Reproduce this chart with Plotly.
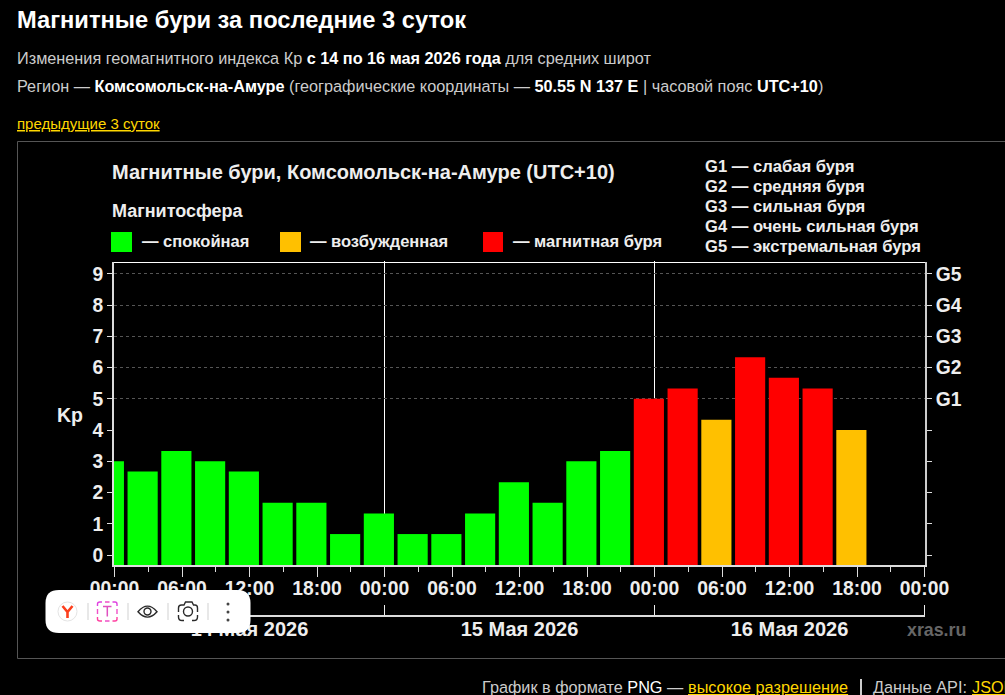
import re
import plotly.graph_objects as go

W, H = 1005, 695
FONT = "Liberation Sans"

# 3-hourly Kp index, bars centred on the hours listed (hours since 14 May 00:00)
hours = [-0.5, 2.5, 5.5, 8.5, 11.5, 14.5, 17.5, 20.5, 23.5, 26.5, 29.5, 32.5,
         35.5, 38.5, 41.5, 44.5, 47.5, 50.5, 53.5, 56.5, 59.5, 62.5, 65.5]
kp = [3, 2.67, 3.33, 3, 2.67, 1.67, 1.67, 0.67, 1.33, 0.67, 0.67, 1.33,
      2.33, 1.67, 3, 3.33, 5, 5.33, 4.33, 6.33, 5.67, 5.33, 4]
status = ["quiet"] * 16 + ["storm", "storm", "active", "storm", "storm", "storm", "active"]

status_colors = {"quiet": "#00ff00", "active": "#ffc000", "storm": "#ff0000"}
status_labels = {"quiet": "— спокойная", "active": "— возбужденная", "storm": "— магнитная буря"}

time_ticks = [0, 6, 12, 18, 24, 30, 36, 42, 48, 54, 60, 66, 72]
time_labels = ["00:00", "06:00", "12:00", "18:00"] * 3 + ["00:00"]
minor_time_ticks = [3, 9, 15, 21, 27, 33, 39, 45, 51, 57, 63, 69]
day_edges = [24, 48, 72]
day_centres = [12, 36, 60]
day_labels = ["14 Мая 2026", "15 Мая 2026", "16 Мая 2026"]

kp_ticks = list(range(10))
g_ticks = [5, 6, 7, 8, 9]
g_labels = ["G1", "G2", "G3", "G4", "G5"]
g_legend = ["G1 — слабая буря", "G2 — средняя буря", "G3 — сильная буря",
            "G4 — очень сильная буря", "G5 — экстремальная буря"]

X_RANGE = [-0.0444, 72.067]
Y_RANGE = [-0.32, 9.376]
X_DOMAIN_PX = (114, 925.25)
Y_DOMAIN_PX = (565, 262)


def fx(px):
    return px / W


def fy(py):
    return 1 - py / H


def pixel_path(d):
    """Turn an absolute path written in page pixels into paper fractions."""
    out, is_x = [], True
    for tok in re.findall(r"[A-Za-z]|-?\d+\.?\d*", d):
        if tok.isalpha():
            out.append(tok)
            is_x = True
        else:
            out.append(f"{fx(float(tok)):.5f}" if is_x else f"{fy(float(tok)):.5f}")
            is_x = not is_x
    return " ".join(out)


def label(px, py, text, size, color="#ffffff", bold=False, anchor="left", under=False):
    font = dict(family=FONT, size=size, color=color)
    if under:
        font["lineposition"] = "under"
    return dict(xref="paper", yref="paper", x=fx(px), y=fy(py), text=f"<b>{text}</b>" if bold else text,
                showarrow=False, xanchor=anchor, yanchor="middle", align="left", borderpad=0,
                font=font)


def page_rect(x0, y0, x1, y1, fill=None, line=None, width=1, layer="below"):
    return dict(type="rect", xref="paper", yref="paper", x0=fx(x0), x1=fx(x1), y0=fy(y0), y1=fy(y1),
                fillcolor=fill or "rgba(0,0,0,0)", line=dict(color=line or "rgba(0,0,0,0)", width=width if line else 0),
                layer=layer)


def icon(d, color=None, width=0, fill=None):
    return dict(type="path", xref="paper", yref="paper", path=pixel_path(d), layer="above",
                fillcolor=fill or "rgba(0,0,0,0)",
                line=dict(color=color or "rgba(0,0,0,0)", width=width))


fig = go.Figure()

FLOOR = Y_RANGE[0]
for key, colour in status_colors.items():
    xs = [h for h, s in zip(hours, status) if s == key]
    ys = [v - FLOOR for v, s in zip(kp, status) if s == key]
    fig.add_trace(go.Bar(x=xs, y=ys, base=FLOOR, width=2.68, marker=dict(color=colour, line_width=0),
                         showlegend=False, hoverinfo="skip"))

# empty traces keep the extra axes alive
fig.add_trace(go.Scatter(x=[None], y=[None], yaxis="y2", showlegend=False))
fig.add_trace(go.Scatter(x=[None], y=[None], xaxis="x2", showlegend=False))

AXIS_GREY = "#dddddd"
tick_font = dict(family=FONT, size=19.3, color="#eeeeee", weight="bold")
date_font = dict(family=FONT, size=20, color="#eeeeee", weight="bold")

annotations = [
    label(16, 20.5, "Магнитные бури за последние 3 суток", 23.7, bold=True),
    label(16, 58, "Изменения геомагнитного индекса Кр <span style='color:#fff'><b>с 14 по 16 мая 2026 года</b></span> для средних широт", 16.25, "#cccccc"),
    label(16, 86.5, "Регион — <span style='color:#fff'><b>Комсомольск-на-Амуре</b></span> (географические координаты — <span style='color:#fff'><b>50.55 N 137 E</b></span> | часовой пояс <span style='color:#fff'><b>UTC+10</b></span>)", 16.25, "#cccccc"),
    label(16, 124, "предыдущие 3 суток", 15, "#ffd700", under=True),
    label(111, 172, "Магнитные бури, Комсомольск-на-Амуре (UTC+10)", 20, "#eeeeee", bold=True),
    label(111, 211, "Магнитосфера", 18, "#eeeeee", bold=True),
    label(141, 241.5, status_labels["quiet"], 16.5, "#eeeeee", bold=True),
    label(309, 241.5, status_labels["active"], 16.5, "#eeeeee", bold=True),
    label(512, 241.5, status_labels["storm"], 16.5, "#eeeeee", bold=True),
    label(70, 415, "Kp", 19.5, "#eeeeee", bold=True, anchor="center"),
    label(906, 630, "xras.ru", 17.8, "#666666", bold=True),
    label(481, 687, "График в формате <span style='color:#fff'>PNG</span> —", 16.25, "#cccccc"),
    label(687, 687, "высокое разрешение", 16.25, "#ffd700", under=True),
    label(872, 687, "Данные API:", 16.25, "#cccccc"),
    label(971, 687, "JSON", 16.25, "#ffd700", under=True),
]
for i, text in enumerate(g_legend):
    annotations.append(label(704, 166 + 20 * i + 0.1 * i, text, 16.6, "#eeeeee", bold=True))

shapes = [
    page_rect(17.5, 141.5, 1012, 658.5, line="#555555"),
    page_rect(111, 232, 132, 252, fill=status_colors["quiet"]),
    page_rect(280, 232, 301, 252, fill=status_colors["active"]),
    page_rect(483, 232, 503, 252, fill=status_colors["storm"]),
    # top edge of the plot
    dict(type="line", xref="paper", yref="paper", x0=fx(113), x1=fx(926), y0=fy(262.5), y1=fy(262.5),
         line=dict(color="#ffffff", width=1), layer="below"),
    # separator in the footer
    dict(type="line", xref="paper", yref="paper", x0=fx(861), x1=fx(861), y0=fy(679), y1=fy(695),
         line=dict(color="#cccccc", width=2), layer="below"),
]
for edge in day_edges[:2]:
    shapes.append(dict(type="line", xref="x", yref="paper", x0=edge, x1=edge, y0=fy(261), y1=fy(565),
                       line=dict(color="#ffffff", width=1), layer="below"))

# floating browser toolbar
shapes += [
    icon("M 59 590 L 237 590 Q 250.5 590 250.5 603 L 250.5 620 Q 250.5 633 237 633 L 59 633 Q 45.5 633 45.5 620 L 45.5 603 Q 45.5 590 59 590 Z", fill="#ffffff"),
    dict(type="circle", xref="paper", yref="paper", x0=fx(58), x1=fx(77), y0=fy(602), y1=fy(621), layer="above",
         fillcolor="#ffffff", line=dict(color="#e4e4e4", width=1)),
    icon("M 62.5 606 L 67.5 612 L 72.5 606 M 67.5 612 L 67.5 618", color="#fc3f1d", width=2.6),
]
for x in (88, 128, 168, 208):
    shapes.append(icon(f"M {x} 603 L {x} 620", color="#e8e8e8", width=2))
shapes += [
    icon("M 97.5 606 L 97.5 604 Q 97.5 602 100 602 L 102 602 M 112.5 602 L 115 602 Q 117 602 117 604 L 117 606", color="#e040e0", width=1.4),
    icon("M 97.5 617 L 97.5 619 Q 97.5 621 100 621 L 102 621 M 112.5 621 L 115 621 Q 117 621 117 619 L 117 617", color="#ff3fa0", width=1.4),
    icon("M 97.5 609 L 97.5 614 M 117 609 L 117 614 M 105 602 L 109.5 602 M 105 621 L 109.5 621", color="#f050c8", width=1.4),
    icon("M 103 606.5 L 111.5 606.5 M 107.3 606.5 L 107.3 616.5", color="#e050c0", width=1.5),
    icon("M 138 611.7 Q 147.5 600.5 157 611.7 Q 147.5 622.5 138 611.7 Z", color="#2a2a2a", width=1.4),
    dict(type="circle", xref="paper", yref="paper", x0=fx(144), x1=fx(151), y0=fy(608), y1=fy(615), layer="above",
         fillcolor="rgba(0,0,0,0)", line=dict(color="#2a2a2a", width=1.4)),
    icon("M 178.5 612 L 178.5 608 Q 178.5 605 181.5 605 L 184 605 L 185.5 602 L 192 602 L 193.5 605 L 195 605 Q 197.5 605 197.5 608 L 197.5 612", color="#2a2a2a", width=1.4),
    icon("M 178.5 615 L 178.5 617 Q 178.5 620.5 182 620.5 L 184 620.5 M 192 620.5 L 194 620.5 Q 197.5 620.5 197.5 617 L 197.5 615", color="#2a2a2a", width=1.4),
    dict(type="circle", xref="paper", yref="paper", x0=fx(183.5), x1=fx(192.5), y0=fy(607), y1=fy(616), layer="above",
         fillcolor="rgba(0,0,0,0)", line=dict(color="#2a2a2a", width=1.4)),
]
for y in (604, 612, 620):
    shapes.append(dict(type="circle", xref="paper", yref="paper", x0=fx(226.5), x1=fx(229.5), y0=fy(y - 1.5), y1=fy(y + 1.5),
                       layer="above", fillcolor="#444444", line=dict(width=0)))

x_domain = [fx(X_DOMAIN_PX[0]), fx(X_DOMAIN_PX[1])]
y_domain = [fy(Y_DOMAIN_PX[0]), fy(Y_DOMAIN_PX[1])]

fig.update_layout(
    width=W, height=H, autosize=False,
    margin=dict(l=0, r=0, t=0, b=0, pad=0),
    paper_bgcolor="#000000", plot_bgcolor="#000000",
    barmode="overlay", showlegend=False,
    font=dict(family=FONT, color="#eeeeee"),
    annotations=annotations, shapes=shapes,
    xaxis=dict(
        automargin=False,
        domain=x_domain, range=X_RANGE, anchor="y",
        tickmode="array", tickvals=time_ticks, ticktext=time_labels,
        ticks="outside", ticklen=10, tickwidth=1, tickcolor=AXIS_GREY,
        tickfont=tick_font, ticklabelstandoff=-5,
        minor=dict(tickmode="array", tickvals=minor_time_ticks, ticks="outside", ticklen=5, tickwidth=1, tickcolor=AXIS_GREY),
        showgrid=False, zeroline=False, showline=True, linecolor=AXIS_GREY, linewidth=2,
    ),
    xaxis2=dict(
        automargin=False,
        domain=x_domain, range=X_RANGE, overlaying="x", anchor="free", position=fy(616), side="bottom",
        tickmode="array", tickvals=day_centres, ticktext=day_labels, ticks="",
        tickfont=date_font, ticklabelstandoff=-5,
        minor=dict(tickmode="array", tickvals=day_edges, ticks="inside", ticklen=10, tickwidth=1, tickcolor="#eeeeee"),
        showgrid=False, zeroline=False, showline=True, linecolor=AXIS_GREY, linewidth=2,
    ),
    yaxis=dict(
        automargin=False,
        domain=y_domain, range=Y_RANGE, anchor="x",
        tickmode="array", tickvals=kp_ticks,
        ticks="outside", ticklen=5, tickwidth=1, tickcolor=AXIS_GREY,
        tickfont=tick_font,
        showgrid=False, zeroline=False, showline=True, linecolor=AXIS_GREY, linewidth=2,
    ),
    yaxis2=dict(
        automargin=False,
        domain=y_domain, range=Y_RANGE, overlaying="y", side="right", anchor="x",
        tickmode="array", tickvals=g_ticks, ticktext=g_labels,
        ticks="outside", ticklen=5, tickwidth=1, tickcolor=AXIS_GREY,
        tickfont=tick_font,
        minor=dict(tickmode="array", tickvals=[0, 1, 2, 3, 4], ticks="outside", ticklen=5, tickwidth=1, tickcolor=AXIS_GREY),
        showgrid=True, gridcolor="#555555", griddash="3px,3px", gridwidth=1,
        zeroline=False, showline=True, linecolor="#cccccc", linewidth=1.5,
    ),
)

fig.write_html("out.html", config=dict(displayModeBar=False, responsive=False))
